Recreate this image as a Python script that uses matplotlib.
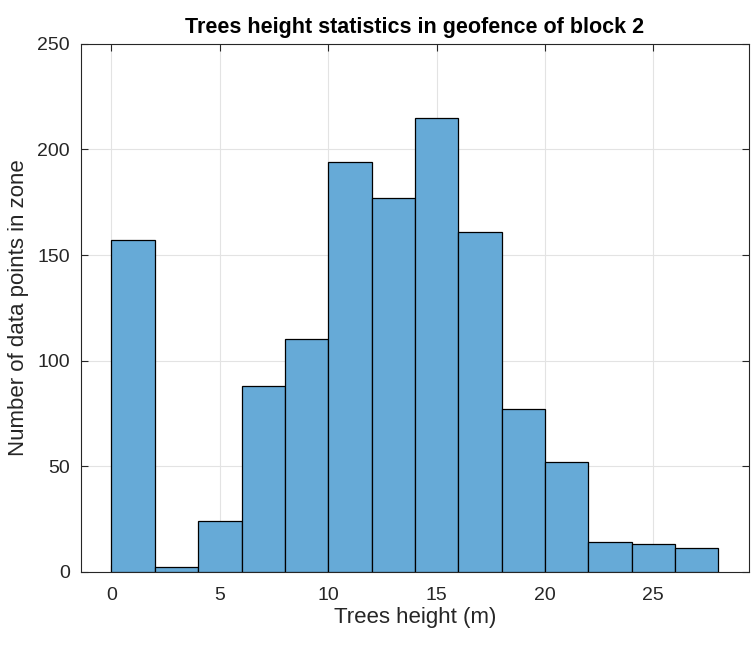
import matplotlib
matplotlib.use("Agg")
import matplotlib.pyplot as plt
import numpy as np

# histogram bins (m) and counts
bin_edges = np.arange(0, 30, 2)
counts = [157, 2, 24, 88, 110, 194, 177, 215, 161, 77, 52, 14, 13, 11]
x_ticks = [0, 5, 10, 15, 20, 25]
y_ticks = [0, 50, 100, 150, 200, 250]

plt.rcParams['font.family'] = ['Liberation Sans', 'DejaVu Sans']

fig = plt.figure(figsize=(7.51, 6.46), dpi=100)
ax = fig.add_axes([0.108, 0.115, 0.889, 0.817])

# MATLAB default histogram colour (0 0.447 0.741) at alpha 0.6 over white
ax.hist(bin_edges[:-1], bins=bin_edges, weights=counts,
        color=(0.4, 0.668, 0.845), edgecolor='black', linewidth=0.9, zorder=3)

ax.set_xlim(-1.4, 29.4)
ax.set_ylim(0, 250)
ax.set_xticks(x_ticks)
ax.set_yticks(y_ticks)
ax.grid(True, color='#e3e3e3', linewidth=0.8, zorder=0)
ax.set_axisbelow(True)

ax.tick_params(direction='in', top=True, right=True, labelsize=14,
               colors='#262626', length=5, width=0.8)
ax.tick_params(axis='x', pad=11)
ax.tick_params(axis='y', pad=8)
for s in ax.spines.values():
    s.set_color('#262626')
    s.set_linewidth(0.8)

ax.set_xlabel('Trees height (m)', fontsize=16, color='#262626', labelpad=2)
ax.set_ylabel('Number of data points in zone', fontsize=16, color='#262626',
              labelpad=6)
ax.set_title('Trees height statistics in geofence of block 2',
             fontsize=15.5, fontweight='bold', pad=8)

fig.savefig('out.png', dpi=100)
